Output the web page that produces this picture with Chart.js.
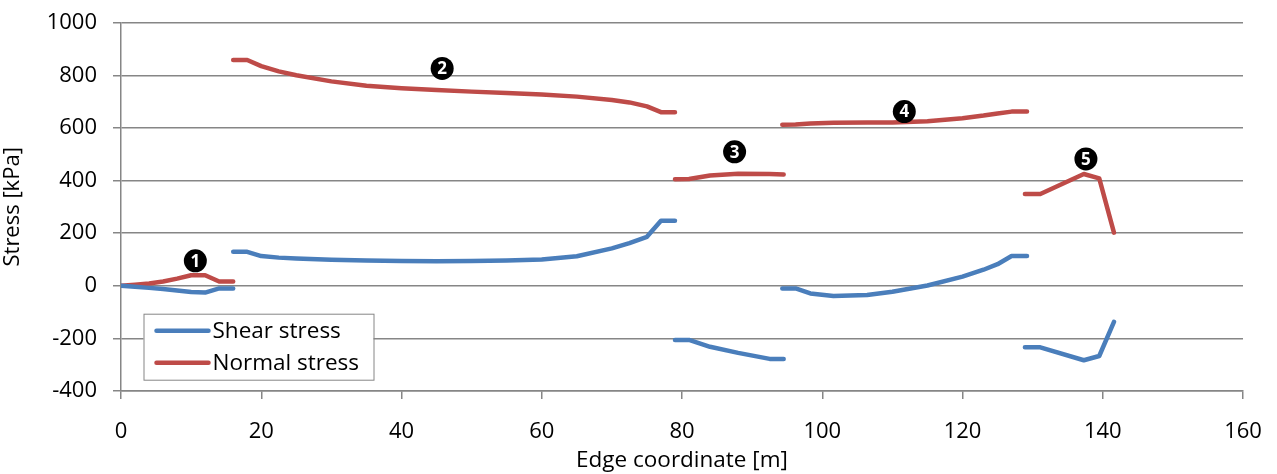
<!DOCTYPE html>
<html>
<head>
<meta charset="utf-8">
<script src="https://cdn.jsdelivr.net/npm/chart.js@4.4.1/dist/chart.umd.min.js"></script>
<style>
  html, body { margin: 0; padding: 0; background: #ffffff; }
  #wrap { width: 1277px; height: 474px; position: relative; }
</style>
</head>
<body>
<div id="wrap"><canvas id="c" width="1277" height="474"></canvas></div>
<script>
// ---- Data ----
const seg1X = [0, 2, 4, 6, 8, 10, 12, 14, 16];
const seg1Normal = [0, 4, 9, 16, 27, 40, 40, 16, 16];
const seg1Shear = [0, -4, -8, -12, -18, -24, -26, -10, -10];

const seg2X = [16, 18, 20, 22.5, 25, 30, 35, 40, 45, 50, 55, 60, 65, 70, 72.5, 75, 77, 79];
const seg2Normal = [858, 858, 835, 815, 800, 777, 760, 751, 744, 738, 733, 727, 719, 706, 697, 682, 660, 660];
const seg2Shear = [129, 129, 113, 107, 104, 99, 96, 94, 93, 94, 96, 100, 112, 142, 162, 186, 247, 247];

const seg3X = [79, 81, 84, 88, 92.5, 94.5];
const seg3Normal = [405, 406, 419, 426, 425, 423];
const seg3Shear = [-206, -206, -232, -255, -278, -278];

const seg4X = [94.3, 96.2, 98.3, 101.6, 106.4, 110, 115, 120, 123, 125, 127, 129.2];
const seg4Normal = [612, 613, 617, 620, 621, 621, 625, 637, 647, 655, 662, 662];
const seg4Shear = [-10, -10, -29, -39, -35, -23, 1, 35, 61, 82, 113, 113];

const seg5X = [128.9, 131.1, 137.3, 139.5, 141.6];
const seg5Normal = [349, 349, 425, 408, 202];
const seg5Shear = [-234, -234, -283, -267, -137];

const seriesLabels = ['Shear stress', 'Normal stress'];
const xTickStep = 20;
const yTickStep = 200;

const annoLabels = ['1', '2', '3', '4', '5'];
const annoX = [10.6, 45.8, 87.5, 111.7, 137.6];
const annoY = [95, 826, 509, 662, 482];

// ---- Build gap-separated point lists ----
const segsX = [seg1X, seg2X, seg3X, seg4X, seg5X];
const segsShear = [seg1Shear, seg2Shear, seg3Shear, seg4Shear, seg5Shear];
const segsNormal = [seg1Normal, seg2Normal, seg3Normal, seg4Normal, seg5Normal];
function buildPoints(vals) {
  const pts = [];
  segsX.forEach((xs, s) => {
    if (s > 0) pts.push({ x: (segsX[s - 1][segsX[s - 1].length - 1] + xs[0]) / 2, y: null });
    xs.forEach((x, i) => pts.push({ x: x, y: vals[s][i] }));
  });
  return pts;
}

const BLUE = '#4A7EBB';
const RED = '#BE4B48';
const GRID = '#868686';
const FONT = "'Open Sans', 'DejaVu Sans', sans-serif";

const annotationPlugin = {
  id: 'annos',
  afterDatasetsDraw(chart) {
    const ctx = chart.ctx;
    const xs = chart.scales.x, ys = chart.scales.y;
    ctx.save();
    annoLabels.forEach((t, i) => {
      const px = xs.getPixelForValue(annoX[i]);
      const py = ys.getPixelForValue(annoY[i]);
      ctx.beginPath();
      ctx.arc(px, py, 11.5, 0, Math.PI * 2);
      ctx.fillStyle = '#000';
      ctx.fill();
      ctx.fillStyle = '#fff';
      ctx.font = "bold 17px " + FONT;
      ctx.textAlign = 'center';
      ctx.textBaseline = 'middle';
      ctx.fillText(t, px, py + 1);
    });
    ctx.restore();
  }
};

const legendPlugin = {
  id: 'insideLegend',
  afterDraw(chart) {
    const ctx = chart.ctx;
    const ca = chart.chartArea;
    const bx = ca.left + 22.5, by = ca.top + 291, bw = 230, bh = 66;
    ctx.save();
    ctx.fillStyle = '#fff';
    ctx.fillRect(bx, by, bw, bh);
    ctx.strokeStyle = GRID;
    ctx.lineWidth = 1;
    ctx.strokeRect(bx + 0.5, by + 0.5, bw, bh);
    chart.data.datasets.forEach((ds, i) => {
      const cy = by + 17 + i * 32;
      ctx.beginPath();
      ctx.moveTo(bx + 13, cy);
      ctx.lineTo(bx + 65, cy);
      ctx.strokeStyle = ds.borderColor;
      ctx.lineWidth = 4.5;
      ctx.lineCap = 'round';
      ctx.stroke();
      ctx.fillStyle = '#000';
      ctx.font = "22.5px " + FONT;
      ctx.textAlign = 'left';
      ctx.textBaseline = 'middle';
      ctx.fillText(ds.label, bx + 69, cy + 1);
    });
    ctx.restore();
  }
};

new Chart(document.getElementById('c'), {
  type: 'line',
  data: {
    datasets: [
      { label: seriesLabels[0], data: buildPoints(segsShear), borderColor: BLUE, backgroundColor: BLUE,
        borderWidth: 4.5, pointRadius: 0, spanGaps: false, tension: 0, borderCapStyle: 'round', borderJoinStyle: 'round' },
      { label: seriesLabels[1], data: buildPoints(segsNormal), borderColor: RED, backgroundColor: RED,
        borderWidth: 4.5, pointRadius: 0, spanGaps: false, tension: 0, borderCapStyle: 'round', borderJoinStyle: 'round' }
    ]
  },
  options: {
    responsive: false,
    animation: false,
    layout: { autoPadding: false, padding: { left: 0, right: 34, top: 22.7, bottom: 0 } },
    plugins: { legend: { display: false }, tooltip: { enabled: false } },
    scales: {
      x: {
        type: 'linear', min: 0, max: 160,
        ticks: { stepSize: xTickStep, color: '#000', font: { family: FONT, size: 22, lineHeight: 1.75 }, padding: 13, maxRotation: 0,
                 callback: (v) => String(v) },
        grid: { drawOnChartArea: false, drawTicks: true, tickLength: 8, color: GRID, lineWidth: 1.5 },
        border: { color: GRID, width: 1.5 },
        title: { display: true, text: 'Edge coordinate [m]', color: '#000', font: { family: FONT, size: 22.5 }, padding: { top: 0, bottom: 0 } },
        afterFit(scale) { scale.height = 83; }
      },
      y: {
        min: -400, max: 1000,
        ticks: { stepSize: yTickStep, color: '#000', font: { family: FONT, size: 22, lineHeight: 0.6 }, padding: 16,
                 callback: (v) => String(v) },
        grid: { color: GRID, lineWidth: 1.5, tickLength: 8 },
        border: { color: GRID, width: 1.5 },
        title: { display: true, text: 'Stress [kPa]', color: '#000', font: { family: FONT, size: 22 }, padding: { top: 0, bottom: 2 } },
        afterFit(scale) { scale.width = 121; }
      }
    }
  },
  plugins: [annotationPlugin, legendPlugin]
});
</script>
</body>
</html>
